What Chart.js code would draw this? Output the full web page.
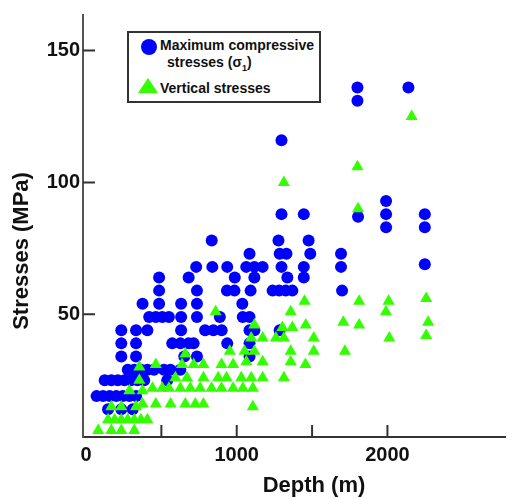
<!DOCTYPE html>
<html>
<head>
<meta charset="utf-8">
<script src="https://cdn.jsdelivr.net/npm/chart.js@4.4.1/dist/chart.umd.min.js"></script>
<style>
  html, body { margin: 0; padding: 0; background: #fff; overflow: hidden; }
  #wrap { position: relative; width: 512px; height: 499px; }
  #legend {
    position: absolute; left: 127px; top: 31px; width: 190px; height: 68px;
    border: 2px solid #333; background: #fff;
    font: bold 14px "Liberation Sans", Arial, sans-serif; color: #111;
  }
  #legend span { position: absolute; white-space: nowrap; line-height: 16px; }
  .dot { position: absolute; width: 16px; height: 16px; border-radius: 50%; background: #0000ff; }
  .tri { position: absolute; width: 0; height: 0; border-left: 10px solid transparent;
         border-right: 10px solid transparent; border-bottom: 15px solid #33ff00; }
</style>
</head>
<body>
<div id="wrap">
  <canvas id="chart" width="512" height="499"></canvas>
  <div id="legend">
    <div class="dot" style="left:12px; top:6px;"></div>
    <span style="left:31px; top:4px;">Maximum compressive</span>
    <span style="left:38px; top:21px;">stresses (σ<sub style="font-size:9px;">1</sub>)</span>
    <div class="tri" style="left:9px; top:45px;"></div>
    <span style="left:31px; top:47px;">Vertical stresses</span>
  </div>
</div>
<script>
const xTitle = "Depth (m)";
const yTitle = "Stresses (MPa)";

const depthTicks = [0, 500, 1000, 1500, 2000];
const depthTickLabels = ["0", "", "1000", "", "2000"];
const stressTicks = [50, 100, 150];

// maximum compressive stresses (blue circles)
const maxDepth = [
  1801, 1801, 2139, 1297, 1297, 1445, 1805, 1991, 1991, 1991, 2248, 2248, 2248,
  834, 1277, 1477, 1085, 1285, 1330, 1488, 1692,
  731, 838, 937, 1063, 1117, 1172, 1297, 1445, 1692,
  485, 681, 987, 1117, 1336, 1445,
  485, 736, 935, 985, 1092, 1238, 1281, 1325, 1369, 1699,
  375, 485, 631, 736, 1037,
  419, 463, 506, 550, 631, 736, 888, 1040, 1085,
  234, 332, 407, 631, 790, 845, 900, 1085, 1117, 1285,
  234, 332, 572, 626, 681, 714, 937, 1085,
  234, 332, 652, 736, 1085,
  277, 320, 364, 407, 451, 517, 560, 626,
  124, 168, 211, 255, 299, 342, 386, 539,
  70, 113, 157, 201, 244, 288, 332,
  146, 234, 310
];
const maxStress = [
  136, 131, 136, 116, 88, 88, 87, 93, 88, 83, 88, 83, 69,
  78, 78, 78, 73, 73, 73, 73, 73,
  68, 68, 68, 68, 68, 68, 68, 68, 68,
  64, 64, 64, 64, 64, 64,
  59, 59, 59, 59, 59, 59, 59, 59, 59, 59,
  54, 54, 54, 54, 54,
  49, 49, 49, 49, 49, 49, 49, 49, 49,
  44, 44, 44, 44, 44, 44, 44, 44, 44, 44,
  39, 39, 39, 39, 39, 39, 39, 39,
  34, 34, 34, 34, 34,
  29, 29, 29, 29, 29, 29, 29, 29,
  25, 25, 25, 25, 25, 25, 25, 25,
  19, 19, 19, 19, 19, 19, 19,
  14, 14, 14
];

// vertical stresses (green triangles)
const vertDepth = [
  2161, 1801, 1313, 1805,
  860, 1450, 1812, 2008, 2257, 1358, 1990,
  1707, 1812, 2270, 1458, 1117, 1303, 1369,
  2012, 2257, 1511, 1096, 1172, 1260, 1313,
  1718, 1511, 1358, 954, 1052, 1117, 659,
  1358, 1172, 1064, 899, 976, 637, 714, 779, 463, 354, 1456,
  1313, 1096, 1172, 932, 1030, 779, 877, 593, 670, 354,
  1107, 899, 976, 1041, 757, 833, 550, 626, 692, 441, 506, 288, 375,
  1107, 659, 725, 779, 561, 375, 463, 168, 234, 332,
  146, 190, 234, 277, 320, 364, 407,
  81, 168, 234, 320
];
const vertStress = [
  125, 106, 100, 90,
  51, 55, 55, 55, 56, 51, 51,
  47, 46, 47, 46, 46, 45, 45,
  41, 42, 41, 41, 41, 41, 41,
  36, 36, 36, 36, 36, 36, 35,
  32, 32, 32, 31, 31, 31, 31, 31, 31, 30, 31,
  26, 26, 26, 26, 26, 26, 26, 26, 26, 25,
  22, 22, 22, 22, 22, 22, 22, 22, 22, 22, 22, 21, 21,
  15, 16, 16, 16, 16, 16, 16, 15, 15, 15,
  10, 10, 10, 10, 10, 10, 10,
  6, 6, 6, 6
];

const toPoints = (xs, ys) => xs.map((v, i) => ({ x: v, y: ys[i] }));

const axisFrame = {
  id: "axisFrame",
  afterDraw(chart) {
    const { ctx, chartArea: a, scales: { x, y } } = chart;
    ctx.save();
    ctx.strokeStyle = "#333";
    ctx.lineWidth = 2;
    ctx.beginPath();
    depthTicks.forEach((v) => {
      if (v <= 0) return;
      const px = x.getPixelForValue(v);
      ctx.moveTo(px, a.bottom);
      ctx.lineTo(px, a.bottom - 12);
    });
    stressTicks.forEach((v) => {
      const py = y.getPixelForValue(v);
      ctx.moveTo(a.left, py);
      ctx.lineTo(a.left + 12, py);
    });
    ctx.stroke();

    ctx.fillStyle = "#111";
    ctx.font = 'bold 22px "Liberation Sans", Arial, sans-serif';
    ctx.textAlign = "center";
    ctx.textBaseline = "middle";
    ctx.fillText(xTitle, 314, 486);
    ctx.translate(22, 251);
    ctx.rotate(-Math.PI / 2);
    ctx.fillText(yTitle, 0, 0);
    ctx.restore();
  },
};

new Chart(document.getElementById("chart"), {
  type: "scatter",
  data: {
    datasets: [
      {
        label: "Vertical stresses",
        data: toPoints(vertDepth, vertStress),
        pointStyle: "triangle",
        pointRadius: 7,
        borderWidth: 0,
        backgroundColor: "#33ff00",
        order: 0,
      },
      {
        label: "Maximum compressive stresses (σ1)",
        data: toPoints(maxDepth, maxStress),
        pointStyle: "circle",
        pointRadius: 6,
        borderWidth: 0,
        backgroundColor: "#0000ff",
        order: 1,
      },
    ],
  },
  options: {
    responsive: false,
    animation: false,
    events: [],
    layout: { padding: { top: 10, right: 2, left: 0, bottom: 0 } },
    plugins: { legend: { display: false }, tooltip: { enabled: false } },
    scales: {
      x: {
        type: "linear",
        min: -20,
        max: 2780,
        afterBuildTicks: (scale) => {
          scale.ticks = depthTicks.map((v) => ({ value: v }));
        },
        afterFit: (scale) => {
          scale.height = 62;
        },
        ticks: {
          callback: (v) => depthTickLabels[depthTicks.indexOf(v)] ?? "",
          color: "#111",
          font: { family: '"Liberation Sans", Arial, sans-serif', size: 20, weight: "bold" },
          padding: 6,
          maxRotation: 0,
          autoSkip: false,
        },
        grid: { display: true, drawOnChartArea: false, drawTicks: false },
        border: { display: true, color: "#333", width: 2 },
      },
      y: {
        type: "linear",
        min: 3.5,
        max: 163.5,
        afterBuildTicks: (scale) => {
          scale.ticks = stressTicks.map((v) => ({ value: v }));
        },
        afterFit: (scale) => {
          scale.width = 83;
        },
        ticks: {
          color: "#111",
          font: { family: '"Liberation Sans", Arial, sans-serif', size: 20, weight: "bold" },
          padding: 3,
          autoSkip: false,
        },
        grid: { display: true, drawOnChartArea: false, drawTicks: false },
        border: { display: true, color: "#555", width: 2 },
      },
    },
  },
  plugins: [axisFrame],
});
</script>
</body>
</html>
